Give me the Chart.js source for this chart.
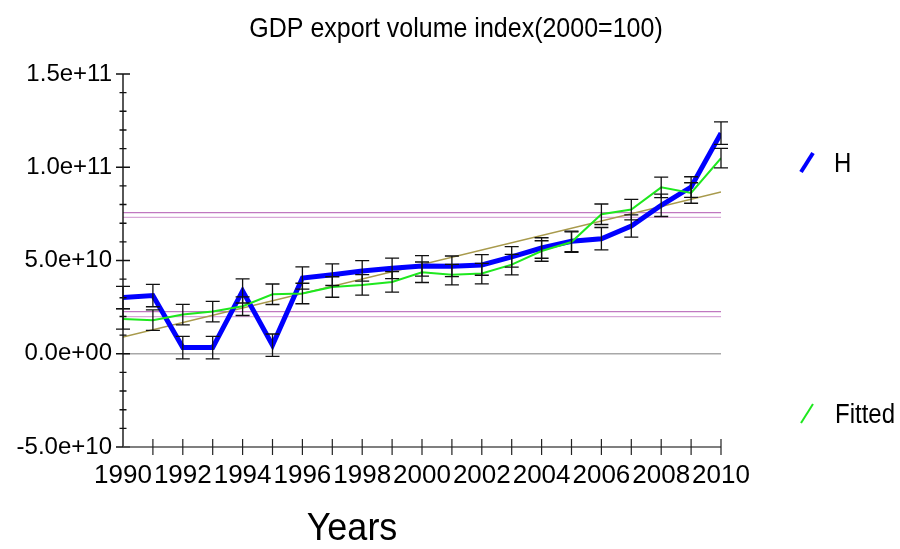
<!DOCTYPE html>
<html>
<head>
<meta charset="utf-8">
<script src="https://cdn.jsdelivr.net/npm/chart.js@4.4.0/dist/chart.umd.min.js"></script>
<style>
  html, body { margin: 0; padding: 0; background: #fff; }
  #wrap { width: 900px; height: 549px; }
</style>
</head>
<body>
<div id="wrap"><canvas id="gdpChart" width="900" height="549"></canvas></div>
<script>
// Data
const chartTitle = 'GDP export volume index(2000=100)';
const xTitle = 'Years';
const years = [1990, 1991, 1992, 1993, 1994, 1995, 1996, 1997, 1998, 1999, 2000,
               2001, 2002, 2003, 2004, 2005, 2006, 2007, 2008, 2009, 2010];
const hValues = [3.01e10, 3.12e10, 0.33e10, 0.33e10, 3.37e10, 0.46e10, 4.06e10, 4.24e10, 4.44e10, 4.58e10, 4.71e10,
                 4.69e10, 4.76e10, 5.19e10, 5.67e10, 6.03e10, 6.17e10, 6.85e10, 7.96e10, 8.94e10, 11.83e10];
const fittedValues = [1.87e10, 1.80e10, 2.10e10, 2.26e10, 2.55e10, 3.19e10, 3.23e10, 3.58e10, 3.69e10, 3.85e10, 4.37e10,
                      4.24e10, 4.30e10, 4.78e10, 5.51e10, 5.99e10, 7.48e10, 7.73e10, 8.92e10, 8.62e10, 10.49e10];
const hErrors = [0.6e10, 0.6e10, 0.6e10, 0.6e10, 0.65e10, 0.6e10, 0.6e10, 0.58e10, 0.55e10, 0.55e10, 0.55e10,
                 0.55e10, 0.55e10, 0.55e10, 0.55e10, 0.55e10, 0.6e10, 0.6e10, 0.6e10, 0.55e10, 0.6e10];
const fittedErrors = [0.55e10, 0.55e10, 0.55e10, 0.55e10, 0.5e10, 0.55e10, 0.55e10, 0.55e10, 0.55e10, 0.55e10, 0.55e10,
                      0.55e10, 0.55e10, 0.55e10, 0.55e10, 0.55e10, 0.55e10, 0.55e10, 0.55e10, 0.55e10, 0.52e10];
const trendYears = [1990, 2010];
const trendValues = [0.90e10, 8.67e10];
const upperBand = [7.57e10, 7.31e10];
const lowerBand = [2.26e10, 1.99e10];
const zeroLine = [0, 0];
const yTickValues = [-5e10, 0, 5e10, 1e11, 1.5e11];

const FONT = '"Liberation Sans", Arial, sans-serif';

function toPoints(xs, ys) {
    return ys.map((v, i) => ({ x: xs[i], y: v }));
}

function formatExp(v) {
    if (v === 0) return '0.0e+00';
    return v.toExponential(1);
}

// text slightly taller than wide, like the reference
function tallText(ctx, text, x, y, stretch) {
    ctx.save();
    ctx.translate(x, y);
    ctx.scale(1, stretch);
    ctx.fillText(text, 0, 0);
    ctx.restore();
}

// Error bars, axis ticks, title and legend
const decorPlugin = {
    id: 'decor',
    afterDatasetsDraw(chart) {
        const ctx = chart.ctx;
        const xs = chart.scales.x, ys = chart.scales.y;
        ctx.save();
        ctx.strokeStyle = '#111';
        ctx.lineWidth = 1.3;
        [[hValues, hErrors], [fittedValues, fittedErrors]].forEach(function(pair) {
            const vals = pair[0], errs = pair[1];
            vals.forEach(function(v, i) {
                const px = xs.getPixelForValue(years[i]);
                const top = ys.getPixelForValue(v + errs[i]);
                const bot = ys.getPixelForValue(v - errs[i]);
                ctx.beginPath();
                ctx.moveTo(px, top); ctx.lineTo(px, bot);
                ctx.moveTo(px - 7, top); ctx.lineTo(px + 7, top);
                ctx.moveTo(px - 7, bot); ctx.lineTo(px + 7, bot);
                ctx.stroke();
            });
        });
        ctx.restore();
    },
    afterDraw(chart) {
        const ctx = chart.ctx;
        const xs = chart.scales.x, ys = chart.scales.y;
        const area = chart.chartArea;
        ctx.save();

        // y axis line and ticks
        ctx.strokeStyle = '#111';
        ctx.lineWidth = 1.4;
        ctx.beginPath();
        ctx.moveTo(area.left, area.top);
        ctx.lineTo(area.left, area.bottom);
        for (let v = ys.min; v <= ys.max + 1; v += 1e10) {
            const py = ys.getPixelForValue(v);
            const major = Math.abs(v % 5e10) < 1;
            const len = major ? 7 : 3.5;
            ctx.moveTo(area.left - len, py);
            ctx.lineTo(area.left + len, py);
        }
        ctx.stroke();

        // x axis line and ticks
        ctx.strokeStyle = '#555';
        ctx.lineWidth = 1.6;
        ctx.beginPath();
        ctx.moveTo(area.left, area.bottom);
        ctx.lineTo(area.right, area.bottom);
        ctx.stroke();
        ctx.strokeStyle = '#222';
        ctx.lineWidth = 1.2;
        ctx.beginPath();
        for (let yr = xs.min + 1; yr <= xs.max; yr++) {
            const px = xs.getPixelForValue(yr);
            ctx.moveTo(px, area.bottom - 8);
            ctx.lineTo(px, area.bottom + 8);
        }
        ctx.stroke();

        // titles
        ctx.fillStyle = '#000';
        ctx.textAlign = 'center';
        ctx.textBaseline = 'alphabetic';
        ctx.font = '25px ' + FONT;
        tallText(ctx, chartTitle, 456, 37, 1.1);
        ctx.font = '36px ' + FONT;
        tallText(ctx, xTitle, 352, 540, 1.08);

        // legend
        ctx.lineCap = 'butt';
        ctx.strokeStyle = '#0000ff';
        ctx.lineWidth = 4;
        ctx.beginPath();
        ctx.moveTo(801, 172); ctx.lineTo(813, 153);
        ctx.stroke();
        ctx.strokeStyle = '#1ee81e';
        ctx.lineWidth = 2;
        ctx.beginPath();
        ctx.moveTo(801, 423); ctx.lineTo(813, 404);
        ctx.stroke();
        ctx.textAlign = 'left';
        ctx.font = '24px ' + FONT;
        tallText(ctx, 'H', 834, 172, 1.15);
        tallText(ctx, 'Fitted', 835, 423, 1.15);
        ctx.restore();
    }
};

const ctx = document.getElementById('gdpChart').getContext('2d');
const chart = new Chart(ctx, {
    type: 'line',
    data: {
        datasets: [
            {
                label: 'Fitted',
                data: toPoints(years, fittedValues),
                borderColor: '#1ee81e',
                borderWidth: 2,
                pointRadius: 0,
                tension: 0,
                order: 1
            },
            {
                label: 'H',
                data: toPoints(years, hValues),
                borderColor: '#0000ff',
                borderWidth: 5,
                pointRadius: 0,
                tension: 0,
                borderJoinStyle: 'miter',
                order: 2
            },
            {
                label: 'trend',
                data: toPoints(trendYears, trendValues),
                borderColor: '#a89a4c',
                borderWidth: 1.5,
                pointRadius: 0,
                order: 3
            },
            {
                label: 'upper band a',
                data: toPoints(trendYears, [upperBand[0], upperBand[0]]),
                borderColor: '#c078c0',
                borderWidth: 1.2,
                pointRadius: 0,
                order: 4
            },
            {
                label: 'upper band b',
                data: toPoints(trendYears, [upperBand[1], upperBand[1]]),
                borderColor: '#d8a8d8',
                borderWidth: 1.2,
                pointRadius: 0,
                order: 4
            },
            {
                label: 'lower band a',
                data: toPoints(trendYears, [lowerBand[0], lowerBand[0]]),
                borderColor: '#c078c0',
                borderWidth: 1.2,
                pointRadius: 0,
                order: 4
            },
            {
                label: 'lower band b',
                data: toPoints(trendYears, [lowerBand[1], lowerBand[1]]),
                borderColor: '#d8a8d8',
                borderWidth: 1.2,
                pointRadius: 0,
                order: 4
            },
            {
                label: 'zero',
                data: toPoints(trendYears, zeroLine),
                borderColor: '#a8a8a8',
                borderWidth: 1.5,
                pointRadius: 0,
                order: 5
            }
        ]
    },
    options: {
        responsive: false,
        animation: false,
        layout: {
            padding: { top: 74, right: 179, left: 0, bottom: 0 }
        },
        plugins: {
            legend: { display: false },
            title: { display: false },
            tooltip: { enabled: false }
        },
        scales: {
            x: {
                type: 'linear',
                min: 1990,
                max: 2010,
                grid: { display: false, drawTicks: false },
                border: { display: false },
                afterFit: function(scale) { scale.height = 102; },
                ticks: {
                    stepSize: 2,
                    autoSkip: false,
                    maxRotation: 0,
                    padding: 13,
                    color: '#000',
                    font: { family: FONT, size: 26 },
                    callback: function(v) { return String(v); }
                }
            },
            y: {
                type: 'linear',
                min: -5e10,
                max: 1.5e11,
                grid: { display: false, drawTicks: false },
                border: { display: false },
                afterFit: function(scale) { scale.width = 123; },
                afterBuildTicks: function(scale) {
                    scale.ticks = yTickValues.map(v => ({ value: v }));
                },
                ticks: {
                    autoSkip: false,
                    padding: 11,
                    color: '#000',
                    font: { family: FONT, size: 24 },
                    callback: function(v) { return formatExp(v); }
                }
            }
        }
    },
    plugins: [decorPlugin]
});
</script>
</body>
</html>
